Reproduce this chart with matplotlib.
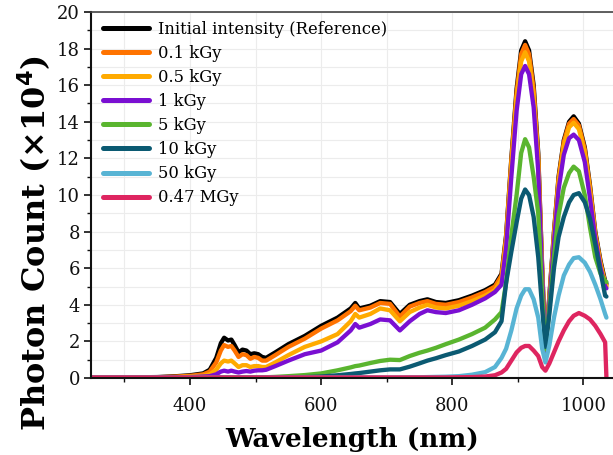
import matplotlib
matplotlib.use("Agg")
import matplotlib.pyplot as plt
from matplotlib.ticker import MultipleLocator, FixedLocator

wavelength = [250, 300, 350, 380, 400, 420, 430, 440, 447, 452, 458, 463, 468, 474, 480, 486, 492, 498, 504, 510,
              516, 530, 550, 575, 600, 625, 645, 652, 658, 675, 690, 705, 720, 735, 750, 762, 775, 790, 810, 830,
              850, 865, 875, 882, 890, 898, 905, 911, 917, 924, 931, 937, 942, 948, 955, 962, 970, 978, 985, 993,
              1002, 1010, 1018, 1026, 1033, 1035]

initial = [0.03, 0.03, 0.05, 0.1, 0.15, 0.25, 0.45, 1.1, 1.9, 2.2, 2.05, 2.1, 1.8, 1.4, 1.55, 1.5, 1.3, 1.35, 1.3, 1.15,
           1.1, 1.4, 1.85, 2.3, 2.85, 3.3, 3.8, 4.1, 3.8, 3.95, 4.2, 4.15, 3.5, 4.0, 4.2, 4.3, 4.15, 4.1, 4.25, 4.5,
           4.8, 5.1, 5.7, 7.8, 12.0, 15.8, 17.9, 18.4, 17.9, 16.0, 12.3, 6.0, 1.6, 4.5, 8.0, 11.0, 13.0, 14.0, 14.3, 13.9,
           12.6, 10.5, 8.0, 6.4, 5.3, 5.15]
kgy_0_1 = [0.02, 0.02, 0.04, 0.08, 0.12, 0.2, 0.35, 0.85, 1.5, 1.8, 1.7, 1.75, 1.5, 1.15, 1.3, 1.25, 1.05, 1.15, 1.1, 0.95,
           0.95, 1.25, 1.7, 2.15, 2.7, 3.15, 3.65, 3.95, 3.7, 3.85, 4.1, 4.05, 3.35, 3.9, 4.1, 4.2, 4.05, 4.0, 4.15, 4.4,
           4.7, 5.0, 5.6, 7.7, 11.9, 15.6, 17.7, 18.2, 17.7, 15.8, 12.1, 5.9, 1.55, 4.4, 7.9, 10.9, 12.9, 13.9, 14.15, 13.8,
           12.5, 10.4, 7.9, 6.3, 5.2, 5.05]
kgy_0_5 = [0.02, 0.02, 0.03, 0.05, 0.08, 0.12, 0.2, 0.45, 0.8, 0.95, 0.9, 0.95, 0.8, 0.6, 0.7, 0.7, 0.6, 0.65, 0.65, 0.6,
           0.6, 0.85, 1.25, 1.7, 2.0, 2.4, 3.1, 3.5, 3.3, 3.5, 3.8, 3.7, 3.1, 3.6, 3.85, 4.0, 3.85, 3.8, 3.95, 4.2,
           4.5, 4.8, 5.4, 7.5, 11.6, 15.3, 17.3, 17.8, 17.3, 15.4, 11.8, 5.8, 1.5, 4.3, 7.7, 10.7, 12.7, 13.7, 13.95, 13.6,
           12.3, 10.2, 7.8, 6.2, 5.1, 5.0]
kgy_1 = [0.01, 0.01, 0.02, 0.03, 0.05, 0.08, 0.1, 0.2, 0.35, 0.4, 0.35, 0.4, 0.35, 0.3, 0.35, 0.38, 0.35, 0.4, 0.42, 0.42,
         0.45, 0.65, 0.95, 1.3, 1.5, 1.95, 2.6, 2.95, 2.75, 2.95, 3.2, 3.15, 2.6, 3.1, 3.5, 3.7, 3.6, 3.55, 3.7, 4.0,
         4.35, 4.7, 5.1, 7.1, 11.0, 14.6, 16.6, 17.05, 16.6, 14.8, 11.3, 5.5, 1.45, 4.1, 7.4, 10.3, 12.2, 13.1, 13.3, 13.0,
         11.8, 9.8, 7.6, 6.0, 5.0, 4.9]
kgy_5 = [0.03, 0.03, 0.03, 0.03, 0.03, 0.03, 0.03, 0.03, 0.03, 0.03, 0.03, 0.03, 0.03, 0.03, 0.03, 0.03, 0.03, 0.03, 0.03, 0.03,
         0.04, 0.06, 0.1, 0.16, 0.25, 0.42, 0.58, 0.65, 0.68, 0.82, 0.93, 1.0, 0.98, 1.2, 1.38, 1.5, 1.65, 1.85, 2.1, 2.4,
         2.75, 3.2, 3.6, 5.2, 7.8, 10.0, 12.3, 13.05, 12.6, 11.0, 9.0, 4.6, 1.55, 3.8, 6.6, 8.9, 10.4, 11.2, 11.55, 11.3,
         10.0, 8.2, 6.6, 5.7, 5.3, 5.25]
kgy_10 = [0.03, 0.03, 0.03, 0.03, 0.03, 0.03, 0.03, 0.03, 0.03, 0.03, 0.03, 0.03, 0.03, 0.03, 0.03, 0.03, 0.03, 0.03, 0.03, 0.03,
          0.03, 0.03, 0.04, 0.05, 0.08, 0.15, 0.22, 0.25, 0.27, 0.35, 0.42, 0.47, 0.47, 0.62, 0.8, 0.95, 1.08, 1.25, 1.45, 1.75,
          2.1, 2.5, 3.1, 5.2, 6.9, 8.5, 9.8, 10.3, 10.0, 8.8, 6.6, 3.8, 1.7, 3.5, 6.0, 7.7, 8.8, 9.6, 10.0, 10.1,
          9.6, 8.7, 7.3, 5.8, 4.5, 4.45]
kgy_50 = [0.03, 0.03, 0.03, 0.03, 0.03, 0.03, 0.03, 0.03, 0.03, 0.03, 0.03, 0.03, 0.03, 0.03, 0.03, 0.03, 0.03, 0.03, 0.03, 0.03,
          0.03, 0.03, 0.03, 0.03, 0.03, 0.03, 0.03, 0.03, 0.03, 0.03, 0.03, 0.03, 0.03, 0.04, 0.04, 0.05, 0.06, 0.07, 0.1, 0.18,
          0.32, 0.6, 1.1, 1.6, 2.6, 3.8, 4.5, 4.85, 4.85, 4.3, 3.3, 1.6, 0.85, 1.8, 3.3, 4.5, 5.6, 6.2, 6.55, 6.6,
          6.3, 5.8, 5.1, 4.3, 3.5, 3.3]
mgy_0_47 = [0.03, 0.03, 0.03, 0.03, 0.03, 0.03, 0.03, 0.03, 0.03, 0.03, 0.03, 0.03, 0.03, 0.03, 0.03, 0.03, 0.03, 0.03, 0.03, 0.03,
            0.03, 0.03, 0.03, 0.03, 0.03, 0.03, 0.03, 0.03, 0.03, 0.03, 0.03, 0.03, 0.03, 0.03, 0.03, 0.03, 0.03, 0.03, 0.04, 0.05,
            0.08, 0.15, 0.3, 0.5, 0.95, 1.4, 1.65, 1.75, 1.75, 1.5, 1.2, 0.6, 0.4, 0.8, 1.4, 2.0, 2.6, 3.1, 3.4, 3.55,
            3.4, 3.2, 2.85, 2.4, 1.95, 0.0]

labels = ["Initial intensity (Reference)", "0.1 kGy", "0.5 kGy", "1 kGy", "5 kGy", "10 kGy", "50 kGy", "0.47 MGy"]
series = [initial, kgy_0_1, kgy_0_5, kgy_1, kgy_5, kgy_10, kgy_50, mgy_0_47]
colors = ["#000000", "#ff7300", "#ffaa00", "#7a0fd2", "#5ab52f", "#0b5a72", "#58b4d4", "#de2560"]

xticks = [400, 600, 800, 1000]
yticks = [0, 2, 4, 6, 8, 10, 12, 14, 16, 18, 20]

fig = plt.figure(figsize=(6.13, 4.55), dpi=100)
ax = fig.add_axes([91 / 613, 77 / 455, 522 / 613, 366 / 455])

for y, c, lab in zip(series, colors, labels):
    ax.plot(wavelength, y, color=c, lw=3.1, label=lab, solid_joinstyle="round", solid_capstyle="round")

ax.set_xlim(249, 1045)
ax.set_ylim(0, 20)
ax.xaxis.set_major_locator(FixedLocator(xticks))
ax.xaxis.set_minor_locator(MultipleLocator(100))
ax.yaxis.set_major_locator(FixedLocator(yticks))
ax.yaxis.set_minor_locator(MultipleLocator(1))
ax.grid(True, which="both", color="#ececec", lw=0.8)
ax.set_axisbelow(True)

for s in ["left", "bottom"]:
    ax.spines[s].set_linewidth(1.5)
    ax.spines[s].set_color("#111111")
ax.spines["top"].set_linewidth(1.2)
ax.spines["top"].set_color("#444444")
ax.spines["right"].set_visible(False)

tickfont = {"family": "DejaVu Serif", "size": 13}
ax.tick_params(which="major", direction="out", length=5, width=1.2, colors="#111111")
ax.tick_params(which="minor", direction="out", length=3, width=1.0, colors="#111111")
ax.tick_params(axis="x", which="major", pad=9)
ax.tick_params(axis="y", which="major", pad=3)
ax.set_xticklabels([str(v) for v in xticks], fontdict=tickfont)
ax.set_yticklabels([str(v) for v in yticks], fontdict=tickfont)

ax.set_xlabel("Wavelength (nm)", family="DejaVu Serif", fontweight="bold", fontsize=19, labelpad=8)
ax.set_ylabel("Photon Count (×10$^{\\mathbf{4}}$)", family="DejaVu Serif", fontweight="bold", fontsize=23)
ax.yaxis.set_label_coords(-0.072, 0.37)

leg = ax.legend(loc="upper left", bbox_to_anchor=(12 / 522, 1 - 9 / 366), frameon=False,
                prop={"family": "DejaVu Serif", "size": 11.8}, handlelength=2.8, handletextpad=0.55,
                labelspacing=0.43, borderaxespad=0, borderpad=0)
for h in leg.get_lines():
    h.set_linewidth(3.6)

fig.savefig("out.png", dpi=100)
